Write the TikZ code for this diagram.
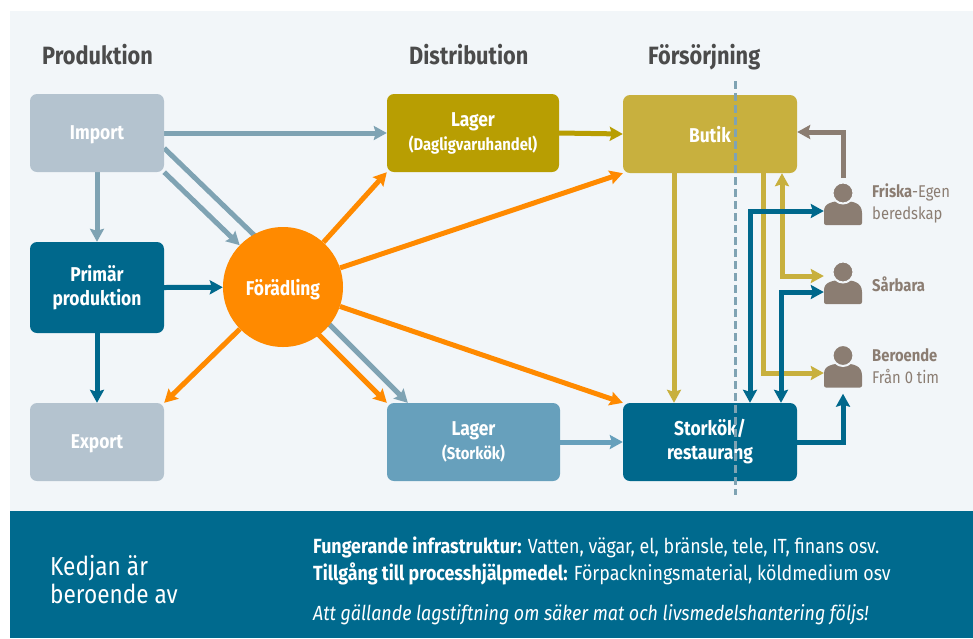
\documentclass[tikz,border=0pt]{standalone}
\usepackage{fontspec}
\setmainfont{Fira Sans}[FakeStretch=0.87]
\usetikzlibrary{arrows.meta,calc,backgrounds}
\definecolor{panel}{HTML}{F2F6F9}
\definecolor{impc}{HTML}{B4C3CF}
\definecolor{gcol}{HTML}{7FA3B3}
\definecolor{dblue}{HTML}{00688C}
\definecolor{orng}{HTML}{FF8A00}
\definecolor{lagDc}{HTML}{B89E02}
\definecolor{butc}{HTML}{C8B03E}
\definecolor{lagSc}{HTML}{67A0BC}
\definecolor{personc}{HTML}{8B7D72}
\definecolor{titlec}{HTML}{4B4B4B}
\definecolor{bandc}{HTML}{006A8E}
\pgfdeclarelayer{lines}
\pgfsetlayers{background,lines,main}
\begin{document}
\begin{tikzpicture}[x=1pt,y=-1pt,
  box/.style={rounded corners=7pt, inner sep=0pt, text=white, align=center,
    font=\bfseries\fontsize{20}{24}\selectfont},
  oneline/.style={text depth=0pt},
  titlenode/.style={inner sep=0pt, text=titlec, font=\bfseries\fontsize{25}{30}\selectfont},
  ptext/.style={inner sep=0pt, text=personc, align=left, font=\fontsize{17}{22}\selectfont},
  bandbig/.style={inner sep=0pt, text=white, align=left, font=\fontsize{26}{28}\selectfont},
  bandtxt/.style={inner sep=0pt, text=white, font=\fontsize{20.5}{24}\selectfont},
  arr/.style={line width=5pt, -{Stealth[length=13pt,width=14pt,inset=2pt]}},
  darr/.style={line width=5pt, {Stealth[length=13pt,width=14pt,inset=2pt]}-{Stealth[length=13pt,width=14pt,inset=2pt]}},
  plainline/.style={line width=5pt},
  dashl/.style={line width=3pt, gcol, dash pattern=on 8pt off 4pt},
  person/.pic={
    \node[minimum width=38pt,minimum height=42pt,inner sep=0pt] (-box) {};
    \fill[personc, rounded corners=2pt] (-19,21) -- (-19,9) [sharp corners] .. controls (-19,-1) and (-10,-3) .. (0,-3) .. controls (10,-3) and (19,-1) .. (19,9) [rounded corners=2pt] -- (19,21) -- cycle;
    \fill[personc, draw=panel, line width=2pt] (0,-11) circle (10.5);
  }]
\useasboundingbox (0,0) rectangle (973,638);
\begin{pgfonlayer}{background}
\fill[white] (0,0) rectangle (973,638);
\fill[panel] (10,11) rectangle (973,511);
\fill[bandc] (10,511) rectangle (973,638);
\end{pgfonlayer}

% titles
\node[titlenode, anchor=base west] (t1) at (42,64) {Produktion};
\node[titlenode, anchor=base west] (t2) at (409,64) {Distribution};
\node[titlenode, anchor=base west] (t3) at (648,64) {Försörjning};

% boxes
\node[box, oneline, fill=impc, minimum width=134pt, minimum height=78pt] (imp) at (97,133) {Import};
\node[box, fill=dblue, minimum width=134pt, minimum height=91pt] (prim) at (97,287.5) {Primär\\produktion};
\node[box, oneline, fill=impc, minimum width=134pt, minimum height=78pt] (exp) at (97,442) {Export};
\node[circle, oneline, fill=orng, minimum size=120pt, inner sep=0pt, text=white,
  font=\bfseries\fontsize{20}{24}\selectfont] (F) at (283,287) {Förädling};
\node[box, fill=lagDc, minimum width=172pt, minimum height=78pt] (lagD) at (473,133)
  {Lager\\{\fontsize{17}{24}\selectfont(Dagligvaruhandel)}};
\node[box, fill=lagSc, minimum width=173pt, minimum height=78pt] (lagS) at (473.5,442)
  {Lager\\{\fontsize{17}{24}\selectfont(Storkök)}};
\node[box, oneline, fill=butc, minimum width=174pt, minimum height=78pt] (butik) at (710,134) {Butik};
\node[box, fill=dblue, minimum width=174pt, minimum height=78pt] (stork) at (710,442) {Storkök/\\restaurang};

% persons
\pic (p1) at (843,204) {person};
\pic (p2) at (843,283) {person};
\pic (p3) at (843,366.5) {person};
\node[ptext, anchor=west] (p1t) at (872,203) {\textbf{Friska}-Egen\\beredskap};
\node[ptext, anchor=west] (p2t) at (872,284) {\textbf{Sårbara}};
\node[ptext, anchor=west] (p3t) at (872,366) {\textbf{Beroende}\\Från 0 tim};

% band texts
\node[bandbig, anchor=west] (k) at (50,579.5) {Kedjan är\\beroende av};
\node[bandtxt, anchor=base west] (l1) at (313,553) {\textbf{Fungerande infrastruktur:} Vatten, vägar, el, bränsle, tele, IT, finans osv.};
\node[bandtxt, anchor=base west] (l2) at (313,580) {\textbf{Tillgång till processhjälpmedel:} Förpackningsmaterial, köldmedium osv};
\node[bandtxt, anchor=base west] (l3) at (313,620) {\textit{Att gällande lagstiftning om säker mat och livsmedelshantering följs!}};

\begin{pgfonlayer}{lines}
% grey-teal
\draw[arr, gcol] (imp.east) -- (lagD.west);
\draw[arr, gcol] (imp.south) -- (prim.north);
\draw[plainline, gcol] ([yshift=24pt]imp.south east) -- ([yshift=24pt]F.center);
\draw[arr, gcol] (imp.south east) -- (F);
% dark blue
\draw[arr, dblue] (prim.east) -- (F);
\draw[arr, dblue] (prim.south) -- (exp.north);
% orange
\draw[arr, orng] (F) -- (exp.north east);
\draw[arr, orng] (F) -- (lagD.south west);
\draw[arr, orng] (F) -- (butik.south west);
\draw[arr, orng] (F) -- (stork.north west);
\draw[arr, gcol] ([shift={(4.5pt,4.5pt)}]F.center) -- ([xshift=21pt]lagS.north west);
\draw[arr, orng] ([shift={(-6pt,-6pt)}]F.center) -- (lagS.north west);
% distribution
\draw[arr, lagDc] (lagD.east) -- (butik.west);
\draw[arr, lagSc] (lagS.east) -- (stork.west);
% yellow
\draw[arr, butc] ([xshift=-36pt]butik.south) -- ([xshift=-36pt]stork.north);
\draw[arr, butc] ([xshift=53pt]butik.south) |- ([yshift=-6.5pt]p3-box.west);
\draw[darr, butc] ([xshift=72pt]butik.south) |- ([yshift=7pt]p2-box.west);
% person grey
\draw[arr, personc] ([yshift=5pt]p1-box.north) |- ([yshift=2pt]butik.east);
% blue
\draw[darr, dblue] ([xshift=40pt]stork.north) |- ([yshift=-7pt]p1-box.west);
\draw[darr, dblue] ([xshift=71pt]stork.north) |- ([yshift=-9pt]p2-box.west);
\draw[arr, dblue] (stork.east) -| ([yshift=-6pt]p3-box.south);
\end{pgfonlayer}

% dashed divider
\coordinate (dtop) at (735,81);
\coordinate (dbot) at (735,495);
\draw[dashl] (dtop) -- (dbot);
\end{tikzpicture}
\end{document}
